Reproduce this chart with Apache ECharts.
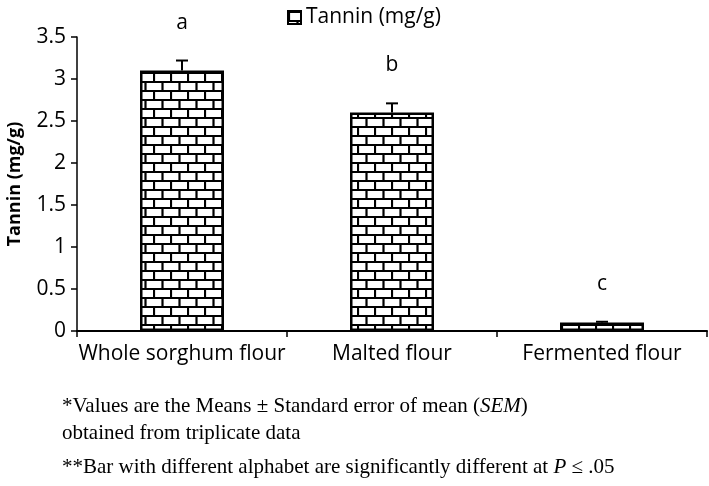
<!DOCTYPE html>
<html>
<head>
<meta charset="utf-8">
<script src="https://cdn.jsdelivr.net/npm/echarts@6/dist/echarts.min.js"></script>
<style>
  html, body { margin: 0; padding: 0; background: #fff; }
  #chart { width: 709px; height: 486px; }
</style>
</head>
<body>
<div id="chart"></div>
<script>
const categories = ['Whole sorghum flour', 'Malted flour', 'Fermented flour']
const tannin = [3.1, 2.6, 0.1]
const sem = [0.12, 0.11, 0.01]
const letters = ['a', 'b', 'c']
const yTicks = { min: 0, max: 3.5, interval: 0.5 }

// brick pattern for the bars
function brickPattern() {
  const c = document.createElement('canvas')
  c.width = 17
  c.height = 18
  const ctx = c.getContext('2d')
  ctx.fillStyle = '#fff'
  ctx.fillRect(0, 0, 17, 18)
  ctx.strokeStyle = '#000'
  ctx.lineWidth = 2.2
  ctx.beginPath()
  ctx.moveTo(0, 1); ctx.lineTo(17, 1)
  ctx.moveTo(0, 10); ctx.lineTo(17, 10)
  ctx.moveTo(1, 1); ctx.lineTo(1, 10)
  ctx.moveTo(9.5, 10); ctx.lineTo(9.5, 19)
  ctx.stroke()
  return c
}
const pattern = { image: brickPattern(), repeat: 'repeat' }

const font = 'Open Sans'
const serif = 'Liberation Serif'
const chart = echarts.init(document.getElementById('chart'))

chart.setOption({
  animation: false,
  textStyle: { fontFamily: font },
  grid: { left: 77, right: 2, top: 37, bottom: 155, outerBoundsMode: 'none' },
  legend: {
    top: 2,
    left: 282,
    itemWidth: 13,
    itemHeight: 13,
    itemGap: 4,
    textStyle: { fontSize: 21, color: '#000', fontFamily: font },
    data: [{ name: 'Tannin (mg/g)', icon: 'rect' }]
  },
  xAxis: {
    type: 'category',
    data: categories,
    axisLine: { lineStyle: { color: '#000', width: 2 } },
    axisTick: { show: true, length: 6, lineStyle: { color: '#000', width: 1.5 } },
    axisLabel: { fontSize: 21, color: '#000', margin: 13, interval: 0 }
  },
  yAxis: {
    type: 'value',
    min: yTicks.min,
    max: yTicks.max,
    interval: yTicks.interval,
    name: 'Tannin (mg/g)',
    nameLocation: 'middle',
    nameGap: 53,
    nameMoveOverlap: false,
    nameTextStyle: { fontSize: 18, fontWeight: 'bold', color: '#000' },
    splitLine: { show: false },
    axisLine: { show: true, lineStyle: { color: '#000', width: 1.5 } },
    axisTick: { show: true, length: 6, lineStyle: { color: '#000', width: 1.5 } },
    axisLabel: { fontSize: 21, color: '#000', margin: 11 }
  },
  series: [
    {
      name: 'Tannin (mg/g)',
      type: 'bar',
      barWidth: '40%',
      data: tannin,
      itemStyle: { color: pattern, borderColor: '#000', borderWidth: 2.5 }
    },
    {
      type: 'custom',
      name: 'err',
      z: 5,
      data: tannin.map((v, i) => [i, v, v + sem[i]]),
      renderItem(params, api) {
        const lo = api.coord([api.value(0), api.value(1)])
        const hi = api.coord([api.value(0), api.value(2)])
        const st = { stroke: '#000', lineWidth: 2 }
        return {
          type: 'group',
          children: [
            { type: 'line', shape: { x1: lo[0], y1: lo[1], x2: hi[0], y2: hi[1] }, style: st },
            { type: 'line', shape: { x1: hi[0] - 6, y1: hi[1], x2: hi[0] + 6, y2: hi[1] }, style: st },
            {
              type: 'text',
              x: hi[0],
              y: hi[1] - 38,
              style: {
                text: letters[params.dataIndex],
                fontSize: 21,
                fontFamily: font,
                fill: '#000',
                align: 'center',
                verticalAlign: 'middle'
              }
            }
          ]
        }
      }
    }
  ],
  graphic: [
    {
      type: 'text',
      left: 62,
      top: 393,
      style: {
        text: '*Values are the Means \u00b1 Standard error of mean ({i|SEM})\nobtained from triplicate data',
        font: '21px "Liberation Serif"',
        fill: '#000',
        lineHeight: 27,
        rich: { i: { fontStyle: 'italic', fontSize: 21, fontFamily: serif } }
      }
    },
    {
      type: 'text',
      left: 62,
      top: 457,
      style: {
        text: '**Bar with different alphabet are significantly different at {i|P} \u2264 .05',
        font: '21px "Liberation Serif"',
        fill: '#000',
        rich: { i: { fontStyle: 'italic', fontSize: 21, fontFamily: serif } }
      }
    }
  ]
})
</script>
</body>
</html>
